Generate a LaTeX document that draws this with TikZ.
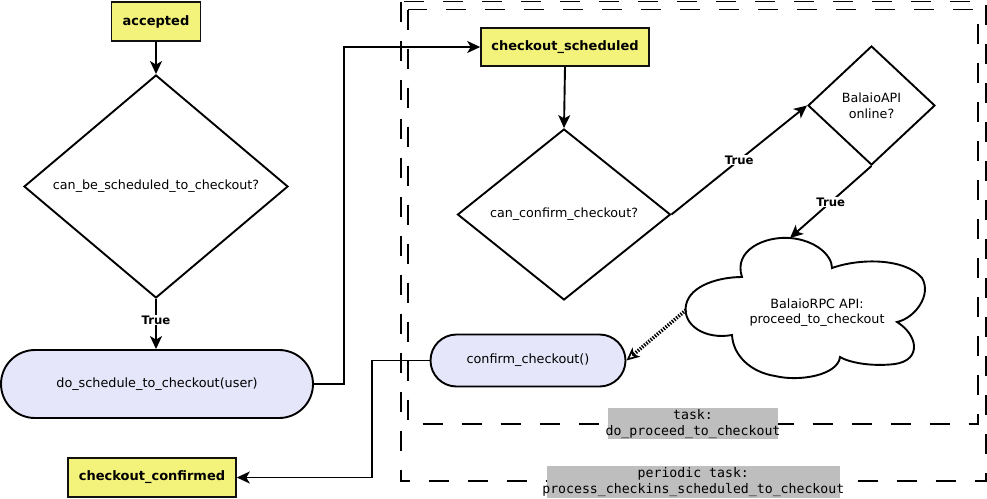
\documentclass[tikz,border=0pt]{standalone}
\usepackage{fontspec}
\setmainfont{DejaVu Sans}
\setmonofont{DejaVu Sans Mono}
\usetikzlibrary{arrows.meta,shapes.geometric,shapes.misc}
\definecolor{boxyellow}{HTML}{F3F37C}
\definecolor{pillfill}{HTML}{E6E6FA}
\definecolor{lblgray}{HTML}{BEBEBE}
\definecolor{edgecol}{HTML}{111111}
\begin{document}
\begin{tikzpicture}[x=1pt,y=-1pt,
  statebox/.style={draw=edgecol, fill=boxyellow, line width=1.6pt, inner sep=0pt,
    font=\bfseries\fontsize{13}{15}\selectfont},
  decision/.style={diamond, draw=black, line width=1.9pt, inner sep=0pt, align=center,
    font=\fontsize{12.7}{16}\selectfont},
  action/.style={rounded rectangle, draw=black, fill=pillfill, line width=1.9pt, inner sep=0pt,
    font=\fontsize{12.8}{15}\selectfont},
  flow/.style={line width=1.9pt, -{Stealth[length=13pt,width=12pt,inset=3.5pt]}},
  cond/.style={fill=white, inner sep=1pt, font=\bfseries\fontsize{11.7}{14}\selectfont},
  taskbox/.style={dash pattern=on 20pt off 19pt, line width=1.9pt},
  tasklabel/.style={fill=lblgray, align=center, inner ysep=1.2pt,
    font=\ttfamily\fontsize{13.2}{15.5}\selectfont}
]
\useasboundingbox (0,0) rectangle (987,498);

% task frames
\draw[taskbox] (401,1.5) rectangle (986,481);
\draw[taskbox] (408,9.5) rectangle (978,424);

% nodes
\node[statebox, minimum width=89pt, minimum height=39pt] (acc) at (156,21.5) {accepted};
\node[decision, minimum width=264pt, minimum height=223pt] (d1) at (156,186.5) {can\_be\_scheduled\_to\_checkout?};
\node[action, minimum width=312pt, minimum height=68pt] (p1) at (157,384) {do\_schedule\_to\_checkout(user)};
\node[statebox, minimum width=168pt, minimum height=38pt] (cs) at (565,47) {checkout\_scheduled};
\node[decision, minimum width=213pt, minimum height=171pt] (d2) at (564,214.5) {can\_confirm\_checkout?};
\node[decision, minimum width=127pt, minimum height=119pt] (bal) at (871.5,105.5) {BalaioAPI\\online?};
\node[action, minimum width=195pt, minimum height=52pt] (p2) at (528,360.5) {confirm\_checkout()};
\node[statebox, minimum width=168pt, minimum height=39pt] (cc) at (152,477.5) {checkout\_confirmed};

% cloud
\draw[line width=1.9pt, fill=white]
  (742,277) .. controls (733,250) and (765,236) .. (790,238)
            .. controls (815,240) and (832,255) .. (832,268)
            .. controls (860,258) and (905,258) .. (922,278)
            .. controls (932,295) and (915,318) .. (897,322)
            .. controls (918,335) and (922,360) .. (895,364)
            .. controls (870,367) and (848,362) .. (840,357)
            .. controls (838,375) and (800,382) .. (775,376)
            .. controls (750,372) and (733,355) .. (732,335)
            .. controls (705,340) and (682,325) .. (686,305)
            .. controls (690,285) and (720,277) .. cycle;
\node[align=center, font=\fontsize{12.75}{15}\selectfont] (rpc) at (817,312.5) {BalaioRPC API:\\proceed\_to\_checkout};
\coordinate (cloudtop) at (790,238);
\coordinate (cloudleft) at (686,310);

% connectors
\draw[flow] (acc.south) -- (d1.north);
\draw[flow] (d1.south) -- node[cond, pos=0.42] {True} (d1.south |- p1.north);
\draw[flow] (p1.east) -- ++(30,0) |- (cs.west);
\draw[flow] (cs.south) -- (d2.north);
\draw[flow] (d2.east) -- node[cond, pos=0.5] {True} (bal.west);
\draw[flow] (bal.south) -- node[cond, pos=0.5] {True} (cloudtop);
\draw[line width=3.6pt, dash pattern=on 1.4pt off 1.4pt,
  -{Stealth[fill=white,length=13pt,width=12pt,inset=3.5pt,line width=1.7pt]}] (cloudleft) -- (p2.east);
\draw[flow] (p2.west) -- ++(-58,0) |- (cc.east);

% task labels
\node[tasklabel, inner xsep=-2.4pt] (t1) at (693,423.8) {task:\\do\_proceed\_to\_checkout};
\node[tasklabel, inner xsep=-4.5pt] (t2) at (693.3,482) {periodic task:\\process\_checkins\_scheduled\_to\_checkout};
\end{tikzpicture}
\end{document}
